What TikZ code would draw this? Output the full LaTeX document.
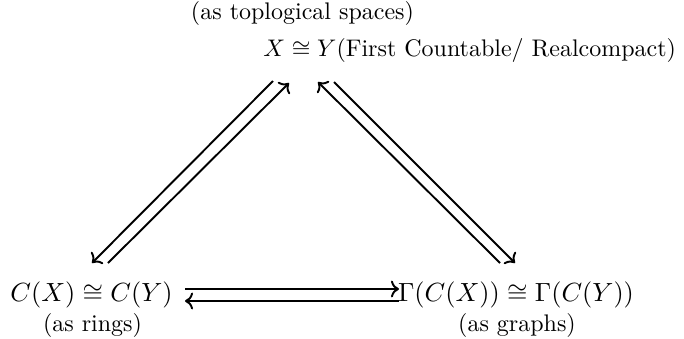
\documentclass[tikz,border=0pt]{standalone}
\usepackage{amsmath,amssymb}
\usetikzlibrary{arrows.meta}
\begin{document}
\begin{tikzpicture}[x=0.4167pt,y=-0.4167pt,
  lbl/.style={inner sep=0pt,anchor=base,font=\fontsize{10}{12}\selectfont},
  mth/.style={inner sep=0pt,anchor=base,font=\fontsize{10.7}{13}\selectfont},
  arr/.style={line width=0.8pt,-{To}}]
\useasboundingbox (0,0) rectangle (684,338);
% labels and nodes
\node[lbl] (toplbl) at (302.5,19) {(as toplogical spaces)};
\node[lbl,anchor=base west] (top) at (263,56.6) {$X\cong Y$(First Countable/ Realcompact)};
\node[mth] (left) at (91.5,301.5) {$C(X)\cong C(Y)$};
\node[lbl] (leftlbl) at (92.5,331) {(as rings)};
\node[mth] (right) at (516,301.5) {$\Gamma(C(X))\cong\Gamma(C(Y))$};
\node[lbl] (rightlbl) at (517,331) {(as graphs)};
% arrow end points
\coordinate (la1) at (108,263); \coordinate (la2) at (289,83);
\coordinate (lb1) at (273,81);  \coordinate (lb2) at (92,263);
\coordinate (ra1) at (500,263); \coordinate (ra2) at (318,82);
\coordinate (rb1) at (334,82);  \coordinate (rb2) at (515,263);
\coordinate (ha1) at (185,289); \coordinate (ha2) at (399,289);
\coordinate (hb1) at (399,301); \coordinate (hb2) at (185,301);
\draw[arr] (la1) -- (la2);
\draw[arr] (lb1) -- (lb2);
\draw[arr] (ra1) -- (ra2);
\draw[arr] (rb1) -- (rb2);
\draw[arr] (ha1) -- (ha2);
\draw[arr] (hb1) -- (hb2);
\end{tikzpicture}
\end{document}
